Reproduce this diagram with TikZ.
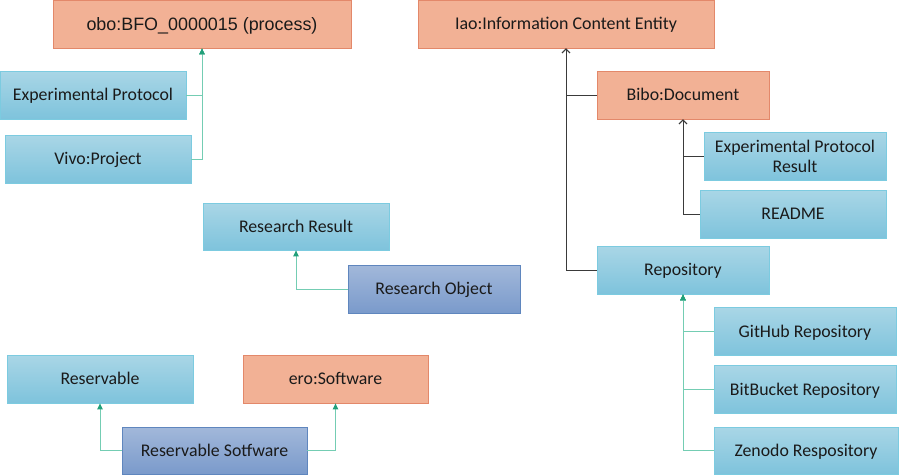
\documentclass[tikz,border=0pt]{standalone}
\usepackage{fontspec}
\setmainfont{Carlito}
\newfontfamily\arialf{Liberation Sans}
\usetikzlibrary{arrows.meta}
\definecolor{btop}{HTML}{A9D6E6}
\definecolor{bbot}{HTML}{7EC3DC}
\definecolor{bdraw}{HTML}{7CCBE0}
\definecolor{sfill}{HTML}{F2B195}
\definecolor{sdraw}{HTML}{E3886A}
\definecolor{dtop}{HTML}{A2B8DA}
\definecolor{dbot}{HTML}{7A9ACB}
\definecolor{ddraw}{HTML}{5F86BE}
\definecolor{gline}{HTML}{74CDB3}
\definecolor{garrow}{HTML}{22A07A}
\definecolor{kline}{HTML}{3A3A3A}
\definecolor{txt}{HTML}{1A1A1A}
\newcommand\fitw[2]{\setbox0=\hbox{\fontsize{10}{12}\selectfont #2}\pgfmathsetmacro\myfs{10*#1/\the\wd0}\fontsize{\myfs}{\myfs}\selectfont #2}
\tikzset{
  box/.style={inner sep=0pt, line width=0.8pt, text=txt, font=\fontsize{17.8}{21}\selectfont, align=center},
  onel/.style={text height=11.6pt, text depth=0pt},
  bluebox/.style={box, onel, top color=btop, bottom color=bbot, draw=bdraw},
  bluebox2/.style={box, top color=btop, bottom color=bbot, draw=bdraw},
  salmonbox/.style={box, onel, fill=sfill, draw=sdraw},
  darkbox/.style={box, onel, top color=dtop, bottom color=dbot, draw=ddraw},
  gconn/.style={draw=gline, line width=0.9pt},
  garr/.style={gconn, -{Triangle[width=5.5pt,length=6pt,fill=garrow,color=garrow]}},
  kconn/.style={draw=kline, line width=0.8pt},
  karr/.style={kconn, -{Straight Barb[length=4pt,width=8pt]}},
}
\begin{document}
\begin{tikzpicture}[x=1pt,y=-1pt]
\useasboundingbox (0,0) rectangle (900,475);
% left top
\node[salmonbox, minimum width=298pt, minimum height=48pt, font=\arialf, text height=12.3pt] (obo) at (202,24) {\fitw{231}{obo:BFO\_0000015 (process)}};
\node[bluebox, minimum width=186pt, minimum height=48pt] (ep) at (93,95) {Experimental Protocol};
\node[bluebox, minimum width=186pt, minimum height=48pt] (vp) at (98,159) {Vivo:Project};
% right top
\node[salmonbox, minimum width=296pt, minimum height=48pt, text height=11.5pt] (iao) at (566,24) {\fitw{222}{Iao:Information Content Entity}};
\node[salmonbox, minimum width=172pt, minimum height=48pt] (bibo) at (683,95) {Bibo:Document};
\node[bluebox2, minimum width=182pt, minimum height=48pt] (epr) at (795,156.5) {Experimental Protocol\\[-1pt]Result};
\node[bluebox, minimum width=186pt, minimum height=48pt] (readme) at (793,214) {README};
\node[bluebox, minimum width=172pt, minimum height=48pt] (repo) at (683,270) {Repository};
\node[bluebox, minimum width=182pt, minimum height=48pt] (gh) at (805,331.5) {GitHub Repository};
\node[bluebox, minimum width=182pt, minimum height=48pt] (bb) at (805,389.5) {BitBucket Repository};
\node[bluebox, minimum width=184pt, minimum height=47pt] (zen) at (806,450.5) {Zenodo Respository};
% middle
\node[bluebox, minimum width=186pt, minimum height=47pt] (rr) at (296,226.5) {Research Result};
\node[darkbox, minimum width=172pt, minimum height=48pt] (ro) at (434,289) {Research Object};
% bottom left
\node[bluebox, minimum width=186pt, minimum height=48pt] (res) at (100,379) {Reservable};
\node[salmonbox, minimum width=185pt, minimum height=48pt] (ero) at (335.5,379) {ero:Software};
\node[darkbox, minimum width=185pt, minimum height=47pt] (rs) at (214.5,450.5) {Reservable Sotfware};
% connectors
\draw[garr] (ep.east) -| (obo.south);
\draw[garr] (vp.east) -| (obo.south);
\draw[karr] (bibo.west) -| (iao.south);
\draw[karr] (repo.west) -| (iao.south);
\draw[karr] (epr.west) -| (bibo.south);
\draw[karr] (readme.west) -| (bibo.south);
\draw[garr] (gh.west) -| (repo.south);
\draw[garr] (bb.west) -| (repo.south);
\draw[garr] (zen.west) -| (repo.south);
\draw[garr] (ro.west) -| (rr.south);
\draw[garr] (rs.west) -| (res.south);
\draw[garr] (rs.east) -| (ero.south);
\end{tikzpicture}
\end{document}
